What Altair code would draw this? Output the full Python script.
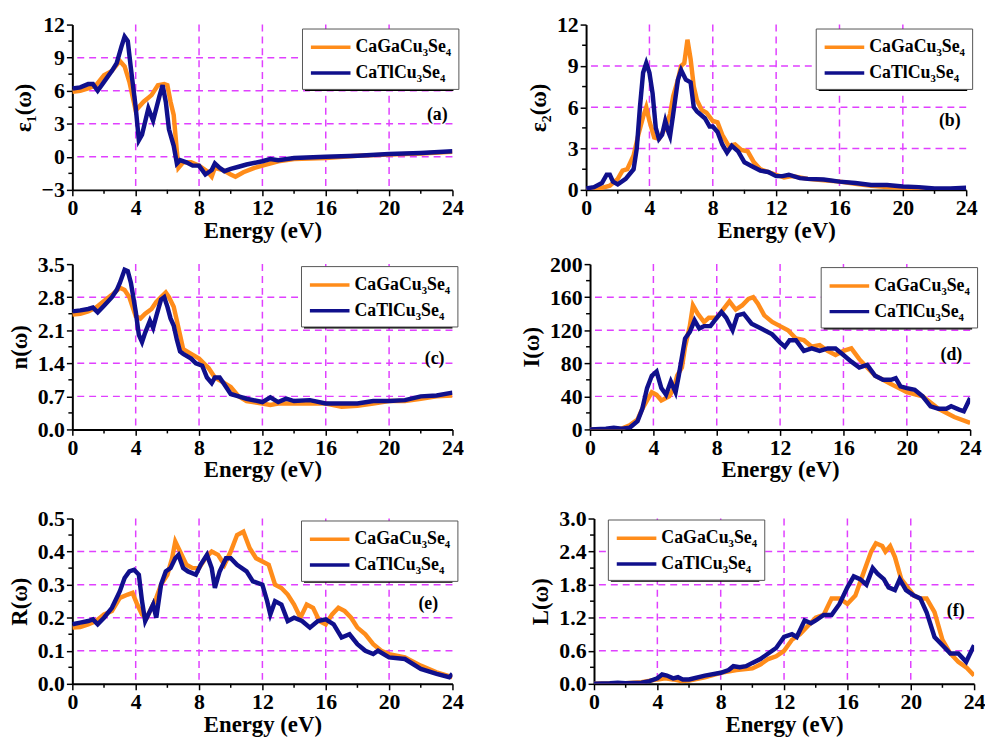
import altair as alt
import pandas as pd

GA = "CaGaCu₃Se₄"
TL = "CaTlCu₃Se₄"
ORANGE = "#FF8C1A"
NAVY = "#10108C"
GRID = "#E040FF"
FONT = "Liberation Serif"

# ---------------- (a) epsilon_1 ----------------
a_ga_e = [0, 0.5, 1.0, 1.5, 2.0, 2.5, 3.0, 3.3, 3.6, 4.0, 4.5, 5.0, 5.4, 5.8, 6.0, 6.2, 6.4, 6.6, 6.7, 7.0, 7.5, 8.0, 8.5, 8.8, 9.0, 9.5, 10.0, 10.3, 10.8, 11.5, 12, 13, 14, 16, 18, 20, 22, 24]
a_ga_v = [5.9, 6.0, 6.2, 6.5, 7.4, 7.8, 8.7, 8.2, 6.8, 4.2, 5.0, 5.6, 6.5, 6.6, 6.5, 5.0, 3.8, 0.5, -1.0, -0.5, -0.5, -0.8, -1.3, -1.8, -1.0, -1.2, -1.6, -1.8, -1.4, -1.0, -0.8, -0.4, -0.2, -0.1, 0.1, 0.2, 0.3, 0.45]
a_tl_e = [0, 0.5, 1.0, 1.3, 1.6, 2.0, 2.5, 2.8, 3.1, 3.3, 3.5, 3.7, 4.0, 4.2, 4.4, 4.8, 5.1, 5.3, 5.5, 5.7, 5.9, 6.1, 6.4, 6.6, 6.8, 7.2, 7.6, 8.0, 8.4, 8.8, 9.0, 9.3, 9.6, 10, 10.5, 11.0, 12.0, 12.5, 13, 14, 16, 18, 20, 22, 24]
a_tl_v = [6.2, 6.3, 6.6, 6.6, 6.0, 6.8, 7.8, 8.5, 10.0, 10.9, 10.5, 8.0, 4.5, 1.5, 2.0, 4.4, 3.3, 4.4, 5.5, 6.5, 5.0, 2.5, 1.0, -0.6, -0.3, -0.5, -0.8, -0.8, -1.6, -1.2, -0.6, -1.0, -1.3, -1.1, -0.9, -0.7, -0.4, -0.2, -0.3, -0.1, 0.0, 0.1, 0.25, 0.35, 0.5]

# ---------------- (b) epsilon_2 ----------------
b_ga_e = [0, 0.5, 1.0, 1.5, 2.0, 2.3, 2.6, 3.0, 3.3, 3.6, 3.8, 4.0, 4.3, 4.6, 5.0, 5.3, 5.5, 5.8, 6.0, 6.2, 6.4, 6.6, 6.8, 7.0, 7.3, 7.6, 8.0, 8.3, 8.6, 9.0, 9.4, 9.8, 10.2, 10.6, 11, 12, 12.5, 13, 14, 15, 16, 17, 18, 19, 20, 22, 24]
b_ga_v = [0, 0.05, 0.15, 0.3, 0.8, 1.4, 1.5, 2.5, 4.0, 5.3, 6.0, 5.0, 3.8, 3.7, 4.5, 5.5, 6.8, 8.0, 9.0, 9.2, 10.9, 9.5, 7.5, 6.5, 5.8, 5.6, 5.0, 4.9, 4.0, 3.2, 3.3, 2.9, 2.8, 2.0, 1.5, 1.1, 0.9, 1.0, 0.8, 0.7, 0.6, 0.45, 0.3, 0.2, 0.15, 0.05, 0.05]
b_tl_e = [0, 0.5, 1.0, 1.3, 1.5, 1.7, 2.0, 2.5, 3.0, 3.2, 3.4, 3.6, 3.8, 4.0, 4.2, 4.4, 4.6, 4.8, 5.0, 5.2, 5.3, 5.5, 5.8, 6.0, 6.3, 6.6, 6.8, 7.0, 7.5, 7.8, 8.0, 8.3, 8.6, 8.9, 9.2, 9.6, 10, 10.5, 11, 11.5, 12, 12.4, 12.8, 13.5, 14, 15, 16, 17, 18, 19, 20, 21, 22, 23, 24]
b_tl_v = [0.1, 0.2, 0.5, 1.1, 1.1, 0.6, 0.4, 0.8, 1.5, 3.0, 6.0, 8.5, 9.2, 8.5, 7.0, 4.5, 3.7, 4.0, 5.0, 4.2, 3.9, 5.5, 8.0, 8.7, 8.0, 7.8, 6.0, 5.7, 5.2, 4.6, 4.6, 4.2, 3.3, 2.7, 3.2, 2.8, 2.0, 1.7, 1.4, 1.3, 1.0, 1.0, 1.1, 0.85, 0.8, 0.75, 0.6, 0.5, 0.35, 0.35, 0.25, 0.2, 0.1, 0.1, 0.15]

# ---------------- (c) n ----------------
c_ga_e = [0, 0.5, 1.0, 1.5, 2.0, 2.5, 3.0, 3.3, 3.6, 4.0, 4.3, 4.6, 5.0, 5.3, 5.6, 5.9, 6.1, 6.4, 6.6, 6.8, 7.0, 7.5, 8.0, 8.3, 8.6, 9.0, 9.5, 10.0, 10.5, 11, 12, 12.5, 13, 14, 15, 16, 17, 18, 19, 20, 21, 22, 23, 24]
c_ga_v = [2.43, 2.45, 2.5, 2.58, 2.72, 2.85, 3.0, 2.95, 2.8, 2.4, 2.35, 2.45, 2.55, 2.7, 2.8, 2.9, 2.8, 2.6, 2.3, 2.0, 1.7, 1.6, 1.5, 1.4, 1.3, 1.1, 1.0, 0.9, 0.7, 0.6, 0.55, 0.52, 0.55, 0.55, 0.55, 0.55, 0.48, 0.5, 0.55, 0.6, 0.6, 0.65, 0.7, 0.72]
c_tl_e = [0, 0.5, 1.0, 1.3, 1.6, 2.0, 2.5, 2.8, 3.0, 3.3, 3.5, 3.7, 4.0, 4.2, 4.4, 4.6, 4.9, 5.1, 5.3, 5.6, 5.8, 6.0, 6.2, 6.4, 6.6, 6.8, 7.0, 7.5, 7.8, 8.2, 8.5, 8.8, 9.0, 9.3, 9.6, 10, 10.5, 11, 12, 12.5, 13, 13.5, 14, 15, 16, 17, 18, 19, 20, 21, 22, 23, 24]
c_tl_v = [2.5, 2.52, 2.55, 2.58, 2.48, 2.62, 2.8, 2.95, 3.1, 3.38, 3.35, 3.1, 2.5, 2.0, 1.85, 2.05, 2.3, 2.15, 2.4, 2.75, 2.8, 2.6, 2.35, 2.2, 1.9, 1.65, 1.6, 1.5, 1.4, 1.35, 1.1, 0.98, 1.1, 1.1, 0.95, 0.75, 0.7, 0.65, 0.58, 0.68, 0.58, 0.65, 0.6, 0.62, 0.55, 0.55, 0.55, 0.6, 0.6, 0.62, 0.7, 0.72, 0.78]

# ---------------- (d) I ----------------
d_ga_e = [0, 1, 2, 2.5, 3.0, 3.3, 3.6, 3.9, 4.2, 4.5, 5.0, 5.3, 5.5, 5.8, 6.0, 6.3, 6.5, 6.8, 7.2, 7.5, 8.0, 8.4, 8.8, 9.2, 9.6, 10.0, 10.3, 10.6, 11, 11.5, 12, 12.5, 13, 13.5, 14, 14.5, 15, 15.5, 16, 16.5, 17, 17.5, 18, 18.5, 19, 19.5, 20, 21, 22, 23, 24]
d_ga_v = [0, 0, 1, 5, 12, 25, 35, 45, 42, 35, 40, 50, 65, 75, 100, 125, 150, 140, 130, 135, 135, 145, 155, 145, 150, 158, 160, 152, 138, 130, 125, 120, 110, 108, 100, 102, 95, 90, 95, 98, 85, 75, 65, 60, 55, 50, 45, 40, 25, 15, 8]
d_tl_e = [0, 1, 1.5, 2, 2.5, 3, 3.3, 3.6, 3.9, 4.2, 4.5, 4.8, 5.1, 5.4, 5.6, 6.0, 6.3, 6.6, 6.9, 7.2, 7.6, 8.0, 8.3, 8.6, 9.0, 9.3, 9.7, 10.2, 10.8, 11.5, 12, 12.3, 12.6, 13, 13.5, 14, 14.5, 15, 15.5, 16, 16.5, 17, 17.5, 18, 18.5, 19, 19.3, 19.6, 20, 20.5, 21, 21.5, 22, 22.5, 22.8, 23.3, 23.6, 24]
d_tl_v = [0, 1, 2, 1, 2, 10, 25, 50, 65, 70, 50, 42, 58, 45, 65, 110, 118, 132, 122, 125, 125, 135, 142, 135, 120, 138, 140, 128, 122, 115, 105, 100, 108, 108, 95, 98, 95, 98, 98, 90, 82, 75, 78, 65, 60, 60, 62, 52, 50, 48, 40, 28, 25, 25, 28, 24, 22, 38]

# ---------------- (e) R ----------------
e_ga_e = [0, 0.5, 1.0, 1.5, 2.0, 2.5, 3.0, 3.5, 3.8, 4.1, 4.4, 4.7, 5.0, 5.3, 5.6, 6.0, 6.3, 6.5, 6.8, 7.2, 7.6, 8.0, 8.4, 8.8, 9.2, 9.6, 10.0, 10.4, 10.8, 11.2, 11.6, 12.0, 12.4, 12.8, 13.2, 13.6, 14.0, 14.4, 14.8, 15.2, 15.6, 16.0, 16.4, 16.8, 17.2, 17.6, 18.0, 18.5, 19, 19.5, 20, 21, 22, 23, 24]
e_ga_v = [0.17, 0.172, 0.18, 0.19, 0.21, 0.22, 0.26, 0.27, 0.275, 0.24, 0.21, 0.2, 0.23, 0.26, 0.3, 0.33, 0.38, 0.43, 0.4, 0.36, 0.35, 0.35, 0.38, 0.4, 0.39, 0.36, 0.4, 0.45, 0.46, 0.41, 0.38, 0.37, 0.36, 0.3, 0.29, 0.27, 0.24, 0.2, 0.24, 0.23, 0.19, 0.18, 0.21, 0.23, 0.22, 0.2, 0.17, 0.15, 0.12, 0.1, 0.09, 0.08, 0.055, 0.035, 0.02]
e_tl_e = [0, 0.5, 1.0, 1.3, 1.6, 2.0, 2.5, 3.0, 3.3, 3.6, 3.9, 4.2, 4.4, 4.6, 4.9, 5.1, 5.3, 5.6, 5.9, 6.2, 6.5, 6.7, 7.0, 7.3, 7.8, 8.1, 8.5, 8.8, 9.0, 9.3, 9.7, 10.0, 10.4, 11.0, 11.4, 12, 12.3, 12.5, 12.8, 13.2, 13.6, 14, 14.5, 15, 15.5, 16, 16.5, 17, 17.5, 18, 18.5, 19, 19.3, 20, 21, 22, 23, 23.8, 24]
e_tl_v = [0.18, 0.185, 0.19, 0.195, 0.18, 0.2, 0.23, 0.28, 0.32, 0.34, 0.345, 0.33, 0.25, 0.19, 0.22, 0.24, 0.2, 0.3, 0.34, 0.35, 0.38, 0.39, 0.35, 0.34, 0.33, 0.36, 0.39, 0.35, 0.29, 0.34, 0.38, 0.38, 0.36, 0.34, 0.31, 0.3, 0.25, 0.21, 0.25, 0.24, 0.19, 0.2, 0.19, 0.17, 0.19, 0.195, 0.18, 0.14, 0.15, 0.12, 0.1, 0.09, 0.1, 0.08, 0.075, 0.045, 0.03, 0.02, 0.03]

# ---------------- (f) L ----------------
f_ga_e = [0, 2, 3, 4, 4.5, 5, 5.5, 6, 7, 8, 9, 10, 10.5, 11, 11.5, 12, 12.5, 13, 13.5, 14, 14.5, 15, 15.5, 16, 16.5, 17, 17.5, 17.8, 18.2, 18.4, 18.7, 19.0, 19.4, 19.8, 20.2, 20.6, 21, 21.5, 22, 22.5, 23, 23.5, 24]
f_ga_v = [0, 0.01, 0.03, 0.08, 0.1, 0.08, 0.05, 0.06, 0.12, 0.2, 0.25, 0.28, 0.35, 0.45, 0.5, 0.6, 0.8, 0.9, 1.05, 1.2, 1.25, 1.55, 1.55, 1.45, 1.6, 2.0, 2.4, 2.55, 2.5, 2.4, 2.5, 2.3, 1.9, 1.75, 1.6, 1.55, 1.55, 1.3, 0.8, 0.55, 0.4, 0.3, 0.15]
f_tl_e = [0, 1, 1.5, 2, 3, 3.5, 4, 4.3, 4.6, 5, 5.3, 5.6, 6, 7, 8, 8.5, 8.8, 9.2, 9.6, 10, 10.5, 11, 11.5, 12, 12.5, 12.8, 13.3, 13.7, 14, 14.5, 15, 15.5, 16, 16.4, 16.8, 17.2, 17.6, 17.9, 18.3, 18.6, 19, 19.3, 19.7, 20.2, 20.6, 21, 21.5, 22, 22.5, 23, 23.5, 24]
f_tl_v = [0, 0.01, 0.02, 0.01, 0.02, 0.05, 0.1, 0.17, 0.15, 0.1, 0.12, 0.08, 0.08, 0.15, 0.2, 0.25, 0.32, 0.3, 0.32, 0.38, 0.45, 0.55, 0.65, 0.85, 0.9, 0.85, 1.15, 1.1, 1.15, 1.25, 1.25, 1.45, 1.75, 1.95, 1.9, 1.8, 2.1, 2.0, 1.9, 1.75, 1.7, 1.9, 1.7, 1.6, 1.55, 1.3, 0.85, 0.7, 0.55, 0.55, 0.4, 0.7]

x_ticks = [0, 4, 8, 12, 16, 20, 24]
x_minor = [2, 6, 10, 14, 18, 22]
x_grid = [4, 8, 12, 16, 20]

panels = {
    "a": dict(title="ε₁(ω)", dom=[-3, 12], fmt="d",
              ticks=[-3, 0, 3, 6, 9, 12], minor=[-1.5, 1.5, 4.5, 7.5, 10.5], grid=[0, 3, 6, 9],
              data=(a_ga_e, a_ga_v, a_tl_e, a_tl_v), lab=(23.7, 3.8), leg=(232, 4)),
    "b": dict(title="ε₂(ω)", dom=[0, 12], fmt="d",
              ticks=[0, 3, 6, 9, 12], minor=[1.5, 4.5, 7.5, 10.5], grid=[3, 6, 9],
              data=(b_ga_e, b_ga_v, b_tl_e, b_tl_v), lab=(23.65, 5.0), leg=(232, 4)),
    "c": dict(title="n(ω)", dom=[0, 3.5], fmt=".1f",
              ticks=[0, 0.7, 1.4, 2.1, 2.8, 3.5], minor=[0.35, 1.05, 1.75, 2.45, 3.15], grid=[0.7, 1.4, 2.1, 2.8],
              data=(c_ga_e, c_ga_v, c_tl_e, c_tl_v), lab=(23.5, 1.5), leg=(231, 2)),
    "d": dict(title="I(ω)", dom=[0, 200], fmt="d",
              ticks=[0, 40, 80, 120, 160, 200], minor=[20, 60, 100, 140, 180], grid=[40, 80, 120, 160],
              data=(d_ga_e, d_ga_v, d_tl_e, d_tl_v), lab=(23.5, 90), leg=(233, 3)),
    "e": dict(title="R(ω)", dom=[0, 0.5], fmt=".1f",
              ticks=[0, 0.1, 0.2, 0.3, 0.4, 0.5], minor=[0.05, 0.15, 0.25, 0.35, 0.45], grid=[0.1, 0.2, 0.3, 0.4],
              data=(e_ga_e, e_ga_v, e_tl_e, e_tl_v), lab=(23.1, 0.24), leg=(231, 2)),
    "f": dict(title="L(ω)", dom=[0, 3.0], fmt=".1f",
              ticks=[0, 0.6, 1.2, 1.8, 2.4, 3.0], minor=[0.3, 0.9, 1.5, 2.1, 2.7], grid=[0.6, 1.2, 1.8, 2.4],
              data=(f_ga_e, f_ga_v, f_tl_e, f_tl_v), lab=(23.4, 1.32), leg=(14, 1)),
}

W, H = 384, 167
LEG_W, LEG_H = 150, 60
AX = dict(labelFont=FONT, labelFontWeight="bold", labelFontSize=22, labelColor="black",
          titleFont=FONT, titleFontWeight="bold", titleFontSize=23, titleColor="black",
          domainColor="black", domainWidth=2, tickColor="black", tickWidth=1.5, tickSize=6,
          labelPadding=2, grid=False, labelOverlap=False, labelFlush=False)


def make_panel(key):
    p = panels[key]
    ga_e, ga_v, tl_e, tl_v = p["data"]
    lx, ly = p["leg"]
    xs = alt.Scale(domain=[0, 24], nice=False, zero=False)
    ys = alt.Scale(domain=p["dom"], nice=False, zero=False)
    xaxis = alt.Axis(values=x_ticks, title="Energy (eV)", titlePadding=1, format="d", **AX)
    yaxis = alt.Axis(values=p["ticks"], title=p["title"], titlePadding=6, format=p["fmt"], **AX)
    cscale = alt.Scale(domain=[GA, TL], range=[ORANGE, NAVY])
    legend = alt.Legend(title=None, orient="none", legendX=lx, legendY=ly,
                        labelFont=FONT, labelFontWeight="bold", labelFontSize=18, labelColor="black",
                        symbolType="M-2,0H2", symbolStrokeWidth=3.5, symbolSize=400, rowPadding=5,
                        padding=7, symbolOffset=10, labelOffset=13, strokeColor="#555555",
                        fillColor="white")

    gx = alt.Chart(pd.DataFrame({"E": x_grid})).mark_rule(
        color=GRID, strokeDash=[7, 5], strokeWidth=1.5).encode(x=alt.X("E:Q", scale=xs, axis=xaxis))
    gy = alt.Chart(pd.DataFrame({"V": p["grid"]})).mark_rule(
        color=GRID, strokeDash=[7, 5], strokeWidth=1.5).encode(y=alt.Y("V:Q", scale=ys, axis=yaxis))
    # minor ticks
    mx = alt.Chart(pd.DataFrame({"E": x_minor})).mark_rule(color="black", strokeWidth=1.5).encode(
        x=alt.X("E:Q", scale=xs, axis=xaxis), y=alt.value(H), y2=alt.value(H + 4))
    my = alt.Chart(pd.DataFrame({"V": p["minor"]})).mark_rule(color="black", strokeWidth=1.5).encode(
        y=alt.Y("V:Q", scale=ys, axis=yaxis), x=alt.value(0), x2=alt.value(-4))

    df_ga = pd.DataFrame({"E": ga_e, "V": ga_v, "S": GA})
    df_tl = pd.DataFrame({"E": tl_e, "V": tl_v, "S": TL})
    enc = dict(x=alt.X("E:Q", scale=xs, axis=xaxis),
               y=alt.Y("V:Q", scale=ys, axis=yaxis),
               color=alt.Color("S:N", scale=cscale, legend=legend),
               order=alt.Order("E:Q"))
    l1 = alt.Chart(df_ga).mark_line(strokeWidth=4.5, clip=True).encode(**enc)
    l2 = alt.Chart(df_tl).mark_line(strokeWidth=4.5, clip=True).encode(**enc)
    lab = alt.Chart(pd.DataFrame({"E": [p["lab"][0]], "V": [p["lab"][1]], "t": [f"({key})"]})).mark_text(
        align="right", baseline="middle", font=FONT, fontWeight="bold", fontSize=18, color="black"
    ).encode(x=alt.X("E:Q", scale=xs, axis=xaxis), y=alt.Y("V:Q", scale=ys, axis=yaxis), text="t:N")
    # legend drop shadow (drawn under the legend box)
    shadow = alt.Chart(pd.DataFrame({"k": [0]})).mark_rect(color="black", opacity=1).encode(
        x=alt.value(lx + 3), x2=alt.value(lx + LEG_W + 3),
        y=alt.value(ly + 3), y2=alt.value(ly + LEG_H + 3))
    return alt.layer(gx, gy, mx, my, l1, l2, lab, shadow).properties(width=W, height=H)


def row(k1, k2, sp):
    return alt.hconcat(make_panel(k1), make_panel(k2), spacing=sp).resolve_scale(
        color="independent").resolve_legend(color="independent")


top = alt.vconcat(row("a", "b", 65), row("c", "d", 58), spacing=11).resolve_scale(
    color="independent").resolve_legend(color="independent")
chart = alt.vconcat(top, row("e", "f", 67), spacing=26).resolve_scale(
    color="independent").resolve_legend(color="independent")

chart = chart.configure(font=FONT).configure_view(stroke=None).properties(
    padding={"left": 0, "top": 2, "right": 0, "bottom": 0})

chart.save("out.html", embed_options={"renderer": "svg", "actions": False})
